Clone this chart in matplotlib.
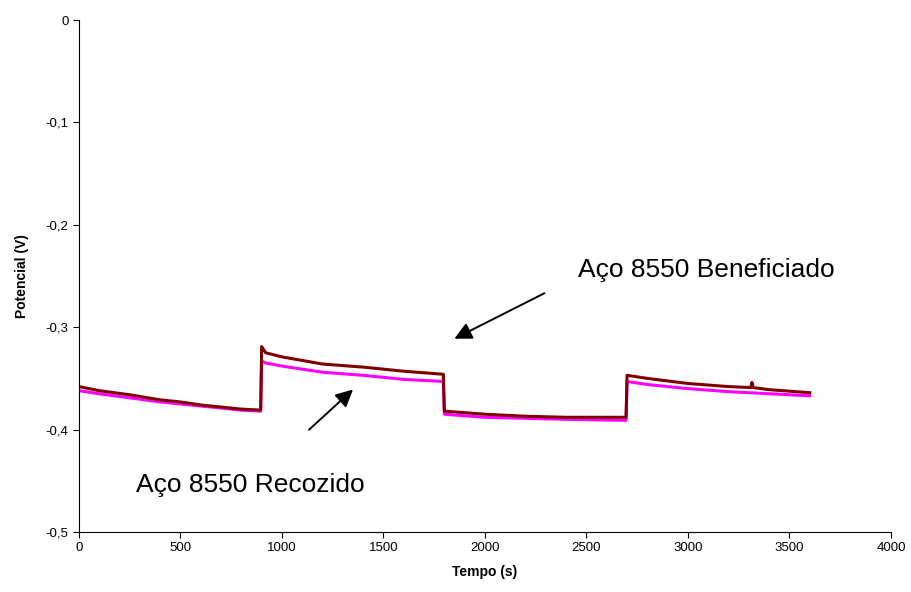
import matplotlib.pyplot as plt
import numpy as np

plt.rcParams['font.family'] = ['Liberation Sans', 'DejaVu Sans']

# Aço 8550 Beneficiado (dark red)
t_benef = [0, 100, 250, 400, 500, 600, 700, 800, 895,
           900, 920, 1000, 1200, 1400, 1500, 1600, 1795,
           1800, 2000, 2200, 2400, 2695,
           2700, 2800, 3000, 3200, 3310, 3315, 3322, 3400, 3600]
v_benef = [-0.358, -0.362, -0.366, -0.371, -0.373, -0.376, -0.378, -0.380, -0.381,
           -0.319, -0.325, -0.329, -0.336, -0.339, -0.341, -0.343, -0.346,
           -0.382, -0.385, -0.387, -0.388, -0.388,
           -0.347, -0.350, -0.355, -0.358, -0.359, -0.354, -0.359, -0.361, -0.364]

# Aço 8550 Recozido (magenta)
t_rec = [0, 100, 250, 400, 500, 600, 700, 800, 895,
         900, 920, 1000, 1200, 1400, 1500, 1600, 1795,
         1800, 2000, 2200, 2400, 2695,
         2700, 2800, 3000, 3200, 3400, 3600]
v_rec = [-0.362, -0.365, -0.369, -0.373, -0.375, -0.377, -0.379, -0.381, -0.382,
         -0.333, -0.335, -0.338, -0.344, -0.347, -0.349, -0.351, -0.353,
         -0.385, -0.388, -0.389, -0.390, -0.391,
         -0.353, -0.356, -0.360, -0.363, -0.365, -0.367]

x_ticks = [0, 500, 1000, 1500, 2000, 2500, 3000, 3500, 4000]
y_ticks = [0, -0.1, -0.2, -0.3, -0.4, -0.5]
y_labels = ['0', '-0,1', '-0,2', '-0,3', '-0,4', '-0,5']

fig = plt.figure(figsize=(9.11, 5.92), dpi=100)
ax = fig.add_axes([0.0867, 0.1014, 0.8913, 0.8648])

ax.plot(t_rec, v_rec, color='#FF00FF', lw=2.2)
ax.plot(t_benef, v_benef, color='#800000', lw=2.2)

ax.set_xlim(0, 4000)
ax.set_ylim(-0.5, 0)
ax.set_xticks(x_ticks)
ax.set_yticks(y_ticks)
ax.set_yticklabels(y_labels)
ax.tick_params(direction='out', length=4, width=0.8, labelsize=9.5, colors='black')
ax.spines['top'].set_visible(False)
ax.spines['right'].set_visible(False)

ax.set_xlabel('Tempo (s)', fontsize=10, fontweight='bold', labelpad=8)
ax.set_ylabel('Potencial (V)', fontsize=10, fontweight='bold', labelpad=12)

arrow = dict(arrowstyle='-|>', color='black', lw=1.4, mutation_scale=26)
ax.annotate('', xy=(1837, -0.3125), xytext=(2305, -0.2656), arrowprops=arrow)
ax.annotate('', xy=(1360, -0.359), xytext=(1123, -0.402), arrowprops=arrow)

ax.text(2460, -0.2445, 'Aço 8550 Beneficiado', fontsize=19, va='center', ha='left')
ax.text(280, -0.4545, 'Aço 8550 Recozido', fontsize=19, va='center', ha='left')

fig.savefig('out.png', dpi=100)
